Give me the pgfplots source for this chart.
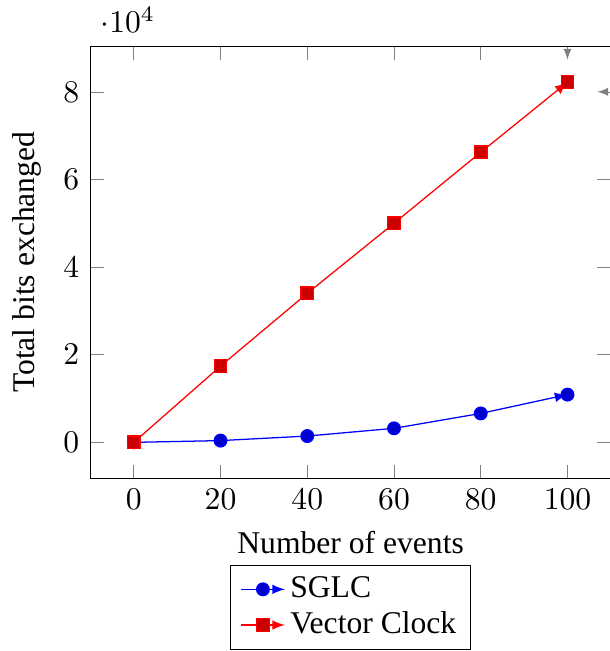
\documentclass[border=0pt]{standalone}
\usepackage{fontspec}
\setmainfont{Liberation Serif}
\usepackage{pgfplots}
\pgfplotsset{compat=1.18}
\begin{document}
\begin{tikzpicture}
\begin{axis}[
  scale only axis,
  width=164.6pt, height=136.7pt,
  xlabel={Number of events},
  ylabel={Total bits exchanged},
  xtick={0,20,40,60,80,100},
  ytick={0,20000,40000,60000,80000},
  tick style={-latex},
  every axis plot/.append style={-latex},
  legend style={at={(0.5,-0.2)}, anchor=north, legend cell align=left, nodes={inner sep=1.5pt}},
  legend image code/.code={\draw[mark repeat=2,mark phase=2,#1,-latex] plot coordinates {(0cm,0cm) (0.245cm,0cm) (0.49cm,0cm)};},
]
\addplot coordinates {(0,0) (20,400) (40,1440) (60,3200) (80,6600) (100,10900)};
\addlegendentry{SGLC}
\addplot coordinates {(0,0) (20,17400) (40,34000) (60,50000) (80,66200) (100,82200)};
\addlegendentry{Vector Clock}
\end{axis}
\pgfresetboundingbox
\path[use as bounding box] ([xshift=-28.6pt,yshift=-54.6pt]current axis.south west) rectangle ([xshift=-0.4pt,yshift=14.6pt]current axis.north east);
\end{tikzpicture}
\end{document}
